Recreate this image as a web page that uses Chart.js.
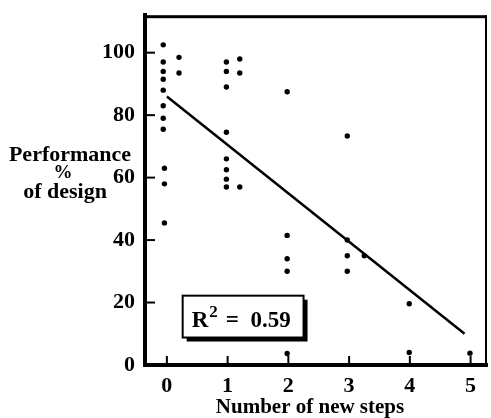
<!DOCTYPE html>
<html>
<head>
<meta charset="utf-8">
<script src="https://cdn.jsdelivr.net/npm/chart.js@4.4.1/dist/chart.umd.min.js"></script>
<style>
  html, body { margin: 0; padding: 0; background: #fff; }
  #wrap { width: 491px; height: 418px; }
</style>
</head>
<body>
<div id="wrap"><canvas id="perfChart" width="491" height="418"></canvas></div>
<script>
  // observed points: number of new steps vs performance (% of design)
  const steps = [-0.06, -0.06, -0.06, -0.06, -0.06, -0.06, -0.06, -0.06,
                 -0.04, -0.04, -0.04,
                 0.2, 0.2,
                 0.98, 0.98, 0.98, 0.98, 0.98, 0.98, 0.98, 0.98,
                 1.2, 1.2, 1.2,
                 1.98, 1.98, 1.98, 1.98, 1.98,
                 2.97, 2.97, 2.97, 2.97,
                 3.25,
                 3.99, 3.99,
                 4.99];
  const perf = [102.5, 97, 94, 91.5, 88, 83, 79, 75.5,
                63, 58, 45.5,
                98.5, 93.5,
                97, 94, 89, 74.5, 66, 62.5, 59.5, 57,
                98, 93.5, 57,
                87.5, 41.5, 34, 30, 3.7,
                73.3, 40, 35, 30,
                35,
                19.6, 4,
                3.8];

  // regression line end points
  const fitX = [0, 4.9];
  const fitY = [86, 10];

  const xTicks = [0, 1, 2, 3, 4, 5];
  const yTicks = [0, 20, 40, 60, 80, 100];
  const xTitle = 'Number of new steps';
  const yTitle = ['Performance', '%', 'of design'];
  const rSquared = '0.59';

  const serif = '"Liberation Serif", "Times New Roman", serif';

  const toXY = (xs, ys) => xs.map((x, i) => ({ x: x, y: ys[i] }));

  // frame, inward ticks, axis titles and R² box
  const decor = {
    id: 'decor',
    afterDraw(chart) {
      const c = chart.ctx, a = chart.chartArea;
      const sx = chart.scales.x, sy = chart.scales.y;
      c.save();
      c.fillStyle = '#000';
      c.strokeStyle = '#000';

      // top and right frame
      c.fillRect(a.left - 2, a.top, a.right - a.left + 2, 3);
      c.fillRect(a.right - 2, a.top, 2, a.bottom - a.top);

      c.lineWidth = 2;
      xTicks.forEach(v => {
        const px = sx.getPixelForValue(v);
        c.beginPath(); c.moveTo(px, a.bottom); c.lineTo(px, a.bottom - 9); c.stroke();
      });
      yTicks.forEach(v => {
        const py = sy.getPixelForValue(v);
        c.beginPath(); c.moveTo(a.left, py); c.lineTo(a.left + 10, py); c.stroke();
      });

      // axis titles
      c.textAlign = 'center';
      c.textBaseline = 'middle';
      c.font = 'bold 21px ' + serif;
      c.fillText(xTitle, 310, 408);
      c.font = 'bold 22px ' + serif;
      c.fillText(yTitle[0], 70, 155);
      c.font = 'bold 19px ' + serif;
      c.fillText(yTitle[1], 63, 173);
      c.font = 'bold 22px ' + serif;
      c.fillText(yTitle[2], 65, 192);

      // R² box
      const bx1 = sx.getPixelForValue(0.26), bx2 = sx.getPixelForValue(2.25);
      const by1 = sy.getPixelForValue(22.2), by2 = sy.getPixelForValue(8.8);
      c.fillRect(bx1 + 4, by1 + 4, bx2 - bx1, by2 - by1);
      c.fillStyle = '#fff';
      c.fillRect(bx1, by1, bx2 - bx1, by2 - by1);
      c.lineWidth = 2;
      c.strokeRect(bx1, by1, bx2 - bx1, by2 - by1);

      c.fillStyle = '#000';
      c.textAlign = 'left';
      c.textBaseline = 'alphabetic';
      const base = by2 - 11;
      let tx = bx1 + 9;
      c.font = 'bold 23px ' + serif;
      c.fillText('R', tx, base);
      tx += c.measureText('R').width + 1;
      c.font = 'bold 17px ' + serif;
      c.fillText('2', tx, base - 10);
      tx += c.measureText('2').width + 8;
      c.font = 'bold 23px ' + serif;
      c.fillText('=  ' + rSquared, tx, base);
      c.restore();
    }
  };

  new Chart(document.getElementById('perfChart'), {
    type: 'scatter',
    data: {
      datasets: [{
        label: 'Observed',
        data: toXY(steps, perf),
        backgroundColor: '#000',
        borderWidth: 0,
        pointRadius: 2.7
      }, {
        type: 'line',
        label: 'Fit',
        data: toXY(fitX, fitY),
        borderColor: '#000',
        borderWidth: 2.5,
        pointRadius: 0,
        fill: false
      }]
    },
    options: {
      responsive: false,
      animation: false,
      layout: { padding: { top: 10, right: 1, left: 0, bottom: 0 } },
      plugins: {
        legend: { display: false },
        tooltip: { enabled: false }
      },
      scales: {
        x: {
          type: 'linear',
          min: -0.36,
          max: 5.27,
          afterBuildTicks: (s) => { s.ticks = xTicks.map(v => ({ value: v })); },
          afterFit: (s) => { s.height = 53; },
          grid: { display: false },
          border: { display: true, color: '#000', width: 4 },
          ticks: {
            color: '#000',
            padding: 0,
            font: { family: serif, size: 22, weight: 'bold' }
          }
        },
        y: {
          min: 0,
          max: 112,
          afterBuildTicks: (s) => { s.ticks = yTicks.map(v => ({ value: v })); },
          afterFit: (s) => { s.width = 145; },
          grid: { display: false },
          border: { display: true, color: '#000', width: 4 },
          ticks: {
            color: '#000',
            padding: 2,
            font: { family: serif, size: 22, weight: 'bold' }
          }
        }
      }
    },
    plugins: [decor]
  });
</script>
</body>
</html>
